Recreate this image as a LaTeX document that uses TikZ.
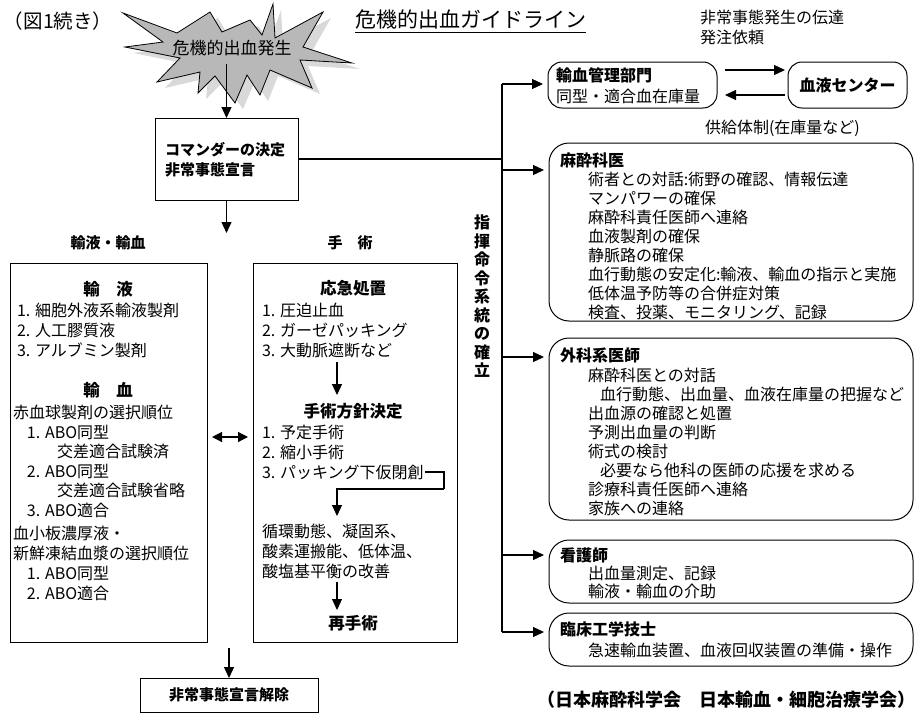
\documentclass[tikz,border=0pt]{standalone}
\usepackage{fontspec}
\setmainfont{Noto Sans CJK JP}
\usetikzlibrary{arrows.meta,calc}
\tikzset{
  every node/.style={inner sep=0pt, outer sep=0pt},
  txt/.style={anchor=west, font=\fontsize{16}{18}\selectfont},
  btxt/.style={anchor=west, font=\fontsize{16}{18}\selectfont\bfseries},
  ctxt/.style={anchor=center, font=\fontsize{16.5}{18}\selectfont\bfseries},
  hdr/.style={anchor=center, font=\fontsize{15}{17}\selectfont\bfseries},
  sqbox/.style={draw, line width=1pt, rectangle},
  rbox/.style={draw, line width=1pt, rounded corners=20pt},
  rsbox/.style={draw, line width=1pt, rounded corners=14pt},
  arr/.style={line width=1.2pt, -{Triangle[length=11pt,width=10pt]}},
  darr/.style={line width=1.2pt, {Triangle[length=10pt,width=10pt]}-{Triangle[length=10pt,width=10pt]}},
  ln/.style={line width=1.2pt},
  vln/.style={line width=2pt},
}
\begin{document}
\begin{tikzpicture}[x=1pt,y=-1pt]
\useasboundingbox (0,0) rectangle (917,717);

% header texts
\node[anchor=west, font=\fontsize{19.5}{22}\selectfont] (fig) at (4,21) {（図1続き）};
\node[anchor=west, font=\fontsize{21}{24}\selectfont] (title) at (355,20) {危機的出血ガイドライン};
\draw[line width=1pt] ([yshift=-3pt]title.south west) -- ([yshift=-3pt]title.south east);

% starburst
\path[fill=black!15, shift={(8,6)}] (123,13) -- (177,33) -- (210,12) -- (222,32) -- (250,20) -- (262,35) -- (273,4) -- (275,38) -- (323,12) -- (303,47) -- (352,63) -- (300,60) -- (312,88) -- (270,70) -- (260,95) -- (247,75) -- (235,103) -- (215,76) -- (198,93) -- (200,72) -- (157,82) -- (180,58) -- (125,47) -- (163,42) -- cycle;
\draw[fill=black!28, line width=0.8pt] (123,13) -- (177,33) -- (210,12) -- (222,32) -- (250,20) -- (262,35) -- (273,4) -- (275,38) -- (323,12) -- (303,47) -- (352,63) -- (300,60) -- (312,88) -- (270,70) -- (260,95) -- (247,75) -- (235,103) -- (215,76) -- (198,93) -- (200,72) -- (157,82) -- (180,58) -- (125,47) -- (163,42) -- cycle;
\node[font=\fontsize{17}{19}\selectfont] (startxt) at (232,48) {危機的出血発生};
\coordinate (starc) at (226.5,64);

% commander
\node[sqbox, minimum width=143pt, minimum height=82pt] (cmd) at (226.5,159) {};
\node[anchor=west, font=\fontsize{15}{17}\selectfont\bfseries] (cmd1) at (165,150) {コマンダーの決定};
\node[anchor=west, font=\fontsize{15}{17}\selectfont\bfseries] (cmd2) at (165,170) {非常事態宣言};
\draw[arr] (starc) -- (cmd.north);
\coordinate (split) at (226.5,233);
\draw[arr] (cmd.south) -- (split);

\node[hdr] (h1) at (108,243) {輸液・輸血};
\node[hdr] (h2) at (350,243) {手　術};

% left box
\node[sqbox, minimum width=197pt, minimum height=379pt] (lbox) at (108.5,452.5) {};
\node[ctxt] (l0) at (108,289) {輸　液};
\node[txt] (l1) at (17,310) {1. 細胞外液系輸液製剤};
\node[txt] (l2) at (17,330) {2. 人工膠質液};
\node[txt] (l3) at (17,350) {3. アルブミン製剤};
\node[ctxt] (l4) at (108,390) {輸　血};
\node[txt] (l5) at (13,412) {赤血球製剤の選択順位};
\node[txt] (l6) at (27,432) {1. ABO同型};
\node[txt] (l7) at (57,451) {交差適合試験済};
\node[txt] (l8) at (27,471) {2. ABO同型};
\node[txt] (l9) at (57,490) {交差適合試験省略};
\node[txt] (l10) at (27,510) {3. ABO適合};
\node[txt] (l11) at (13,533) {血小板濃厚液・};
\node[txt] (l12) at (13,553) {新鮮凍結血漿の選択順位};
\node[txt] (l13) at (27,573) {1. ABO同型};
\node[txt] (l14) at (27,593) {2. ABO適合};

% middle box
\node[sqbox, minimum width=204pt, minimum height=379pt] (mbox) at (355,452.5) {};
\node[ctxt] (m0) at (353,288) {応急処置};
\node[txt] (m1) at (262,310) {1. 圧迫止血};
\node[txt] (m2) at (262,330) {2. ガーゼパッキング};
\node[txt] (m3) at (262,350) {3. 大動脈遮断など};
\coordinate (ma1) at (337,362);
\coordinate (ma2) at (337,395);
\draw[arr] (ma1) -- (ma2);
\node[ctxt] (m4) at (353,411) {手術方針決定};
\node[txt] (m5) at (262,432) {1. 予定手術};
\node[txt] (m6) at (262,452) {2. 縮小手術};
\node[txt] (m7) at (262,472) {3. パッキング下仮閉創};
\coordinate (b2) at (444,489);
\coordinate (b3) at (337,489);
\coordinate (b4) at (337,516);
\draw[ln] ([xshift=1pt]m7.east) -| (b2);
\draw[arr] (b2) -- (b3) -- (b4);
\node[txt] (m8) at (262,531) {循環動態、凝固系、};
\node[txt] (m9) at (262,551) {酸素運搬能、低体温、};
\node[txt] (m10) at (262,571) {酸塩基平衡の改善};
\coordinate (ma3) at (337,582);
\coordinate (ma4) at (337,610);
\draw[arr] (ma3) -- (ma4);
\node[ctxt] (m11) at (353,623) {再手術};

% double arrow
\coordinate (lr1) at (212,437);
\coordinate (lr2) at (248,437);
\draw[darr] (lr1) -- (lr2);

% end
\coordinate (endc) at (229,648);
\node[sqbox, minimum width=178pt, minimum height=34pt] (endbox) at (229,695) {};
\node[hdr] (endt) at (229,695) {非常事態宣言解除};
\draw[arr] (endc) -- (endbox.north);

% command line
\coordinate (vtop) at (502,84);
\coordinate (vbot) at (502,632);
\draw[vln] (vtop) -- (vbot);
\draw[ln] (cmd.east) -- (cmd.east -| vtop);
\foreach \c [count=\i] in {指,揮,命,令,系,統,の,確,立}
  \node[hdr, font=\fontsize{16}{18}\selectfont\bfseries] (v\i) at (482,204+18.5*\i) {\c};

% right column boxes
\node[rsbox, minimum width=169pt, minimum height=46pt] (yu) at (632.5,85) {};
\node[btxt] (yu1) at (556,75) {輸血管理部門};
\node[txt] (yu2) at (556,96) {同型・適合血在庫量};
\node[rsbox, minimum width=119pt, minimum height=46pt] (bc) at (847.5,85) {};
\node[ctxt, font=\fontsize{16}{18}\selectfont\bfseries] (bct) at (847.5,85) {血液センター};
\node[txt] (n1) at (700,17) {非常事態発生の伝達};
\node[txt] (n2) at (700,37) {発注依頼};
\node[txt] (n3) at (705,128) {供給体制(在庫量など)};
\coordinate (r1) at (725,70);
\coordinate (r2) at (785,70);
\coordinate (r3) at (785,95);
\coordinate (r4) at (725,95);
\draw[arr] (r1) -- (r2);
\draw[arr] (r3) -- (r4);
\draw[arr, shorten >=5pt] (vtop) -- (vtop -| yu.west);

% anesthesiologist
\node[rbox, minimum width=364pt, minimum height=178pt] (an) at (731,232) {};
\node[btxt] (an0) at (560,160) {麻酔科医};
\foreach \t [count=\i] in {術者との対話:術野の確認、情報伝達, マンパワーの確保, 麻酔科責任医師へ連絡, 血液製剤の確保, 静脈路の確保, 血行動態の安定化:輸液、輸血の指示と実施, 低体温予防等の合併症対策, 検査、投薬、モニタリング、記録}
  \node[txt] (an\i) at (588,161+18.9*\i) {\t};
\coordinate (a1) at (502,170);
\draw[arr, shorten >=5pt] (a1) -- (a1 -| an.west);

% surgeon
\node[rbox, minimum width=364pt, minimum height=182pt] (su) at (731,429) {};
\node[btxt] (su0) at (560,355) {外科系医師};
\node[txt] (su1) at (588,375) {麻酔科医との対話};
\node[txt] (su2) at (600,394) {血行動態、出血量、血液在庫量の把握など};
\node[txt] (su3) at (588,413) {出血源の確認と処置};
\node[txt] (su4) at (588,432) {予測出血量の判断};
\node[txt] (su5) at (588,451) {術式の検討};
\node[txt] (su6) at (600,470) {必要なら他科の医師の応援を求める};
\node[txt] (su7) at (588,489) {診療科責任医師へ連絡};
\node[txt] (su8) at (588,508) {家族への連絡};
\coordinate (a2) at (502,357);
\draw[arr, shorten >=5pt] (a2) -- (a2 -| su.west);

% nurse
\node[rbox, minimum width=364pt, minimum height=63pt] (nu) at (731,571.5) {};
\node[btxt] (nu0) at (560,555) {看護師};
\node[txt] (nu1) at (588,573) {出血量測定、記録};
\node[txt] (nu2) at (588,591) {輸液・輸血の介助};
\coordinate (a3) at (502,555);
\draw[arr, shorten >=5pt] (a3) -- (a3 -| nu.west);

% clinical engineer
\node[rbox, minimum width=364pt, minimum height=53pt] (ce) at (731,639.5) {};
\node[btxt] (ce0) at (560,629) {臨床工学技士};
\node[txt] (ce1) at (588,650) {急速輸血装置、血液回収装置の準備・操作};
\draw[arr, shorten >=5pt] (vbot) -- (vbot -| ce.west);

% footer
\node[anchor=east, font=\fontsize{18}{20}\selectfont\bfseries] (foot) at (915,700) {（日本麻酔科学会　日本輸血・細胞治療学会）};
\end{tikzpicture}
\end{document}
